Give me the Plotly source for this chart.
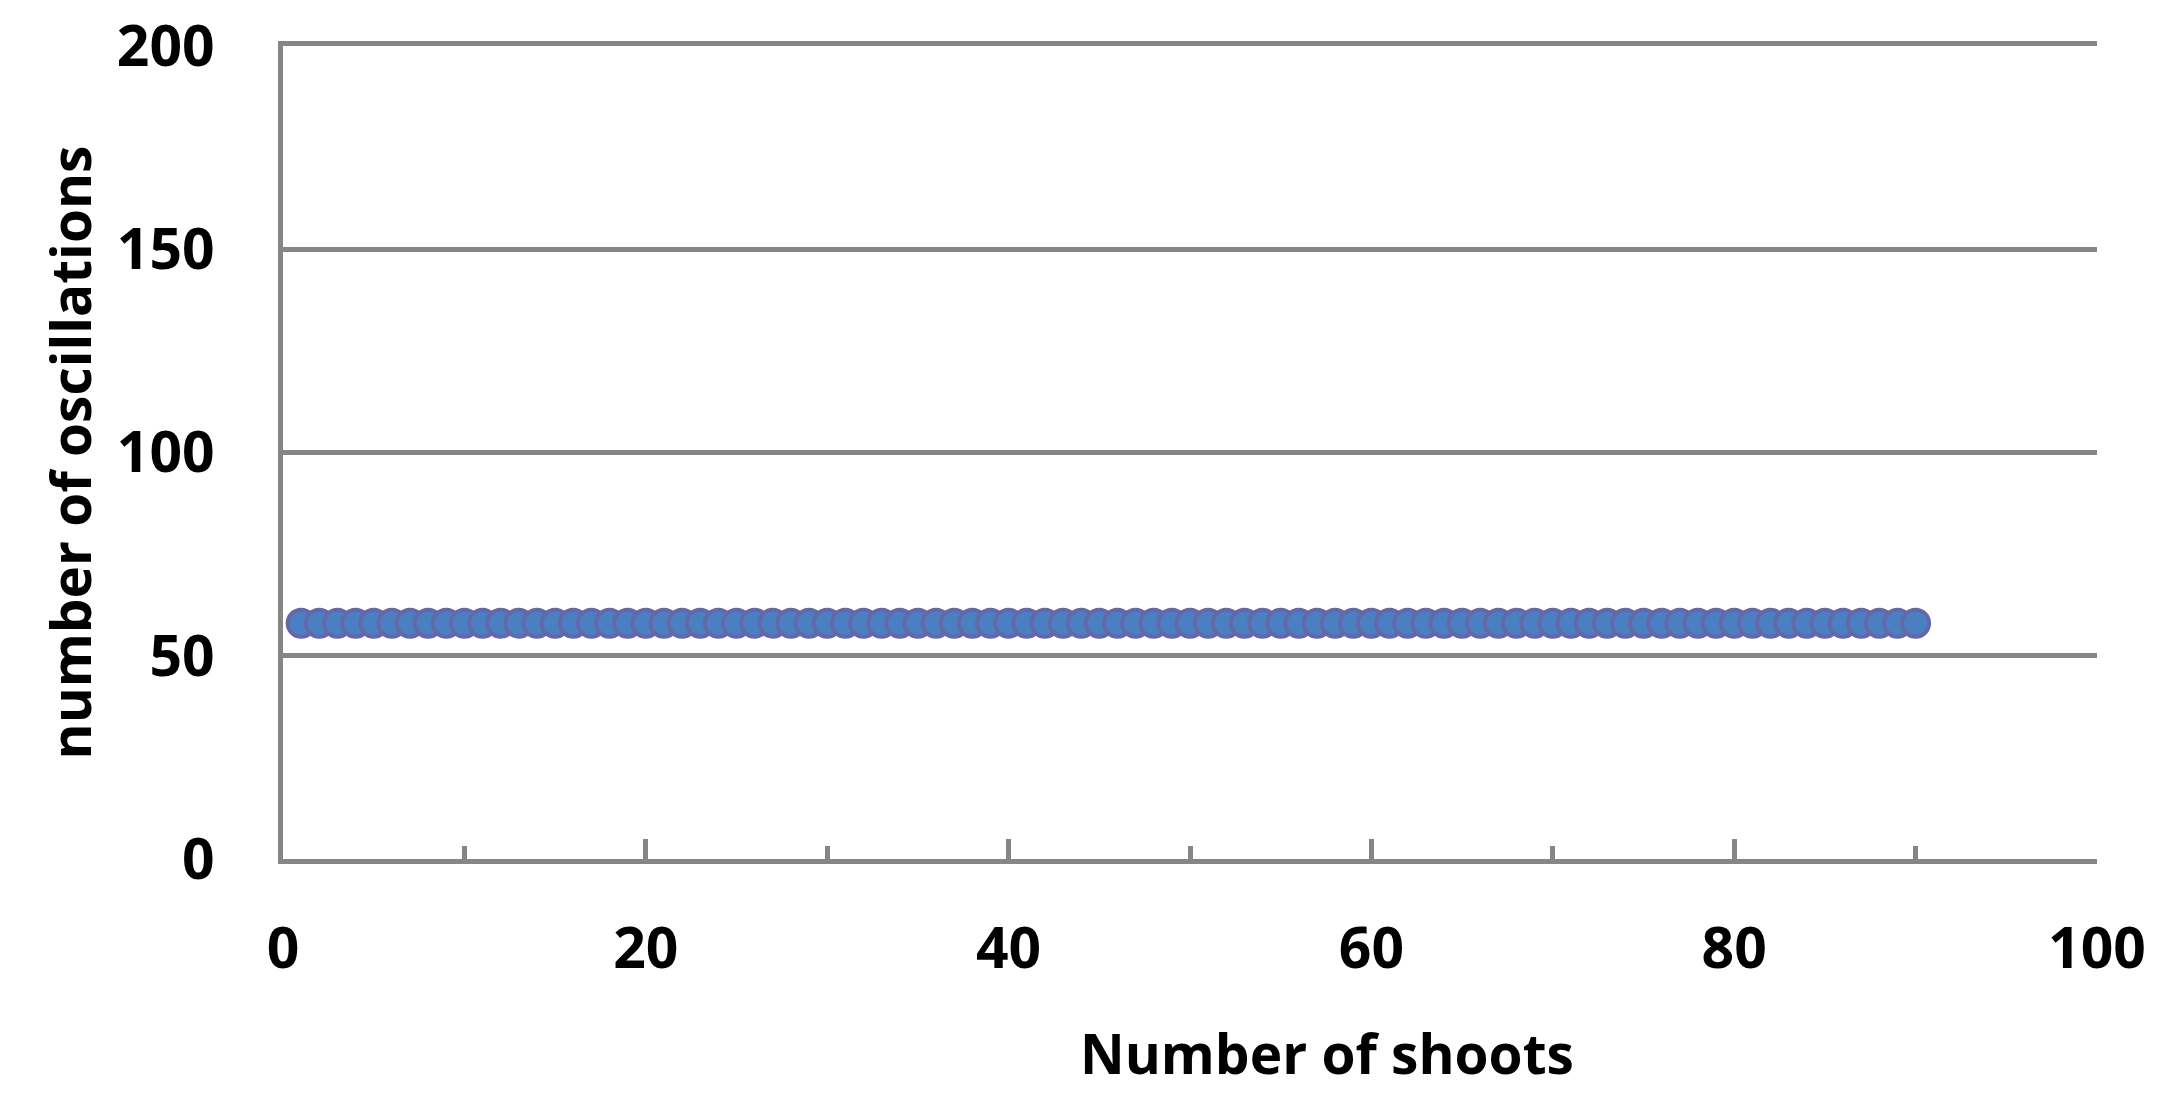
import plotly.graph_objects as go

shoots = list(range(1, 91))
oscillations = [58] * 90

x_ticks = [0, 20, 40, 60, 80, 100]
x_minor_ticks = [10, 30, 50, 70, 90]
y_ticks = [0, 50, 100, 150, 200]

FONT = "Open Sans"
GRID = "#868686"
FS = 57
FS_TITLE = 55
W = "bold"

L, R, T, B = 283, 2097, 46, 859  # plot area in page pixels

fig = go.Figure()
fig.add_trace(go.Scatter(
    x=shoots, y=oscillations, mode="markers",
    marker=dict(symbol="circle", size=27, color="#4a80c2",
                line=dict(color="#6468a8", width=4)),
    showlegend=False,
))

fig.update_layout(
    width=2175, height=1095,
    margin=dict(l=L, r=2175 - R, t=T, b=1095 - B, autoexpand=False),
    paper_bgcolor="white", plot_bgcolor="white",
    font=dict(family=FONT, size=FS, color="black"),
    xaxis=dict(
        range=[0, 100], tickvals=x_ticks, showgrid=False, zeroline=False,
        showline=True, linecolor=GRID, linewidth=5, mirror=True,
        ticks="inside", ticklen=20, tickwidth=5, tickcolor=GRID,
        minor=dict(tickvals=x_minor_ticks, ticks="inside", ticklen=13,
                   tickwidth=5, tickcolor=GRID),
        tickfont=dict(family=FONT, size=FS, weight=W),
        ticklabelstandoff=36, automargin=False, ticklabeloverflow="allow",
    ),
    yaxis=dict(
        range=[0, 200], tickvals=y_ticks, showgrid=True, gridcolor=GRID,
        gridwidth=5, zeroline=False,
        showline=True, linecolor=GRID, linewidth=5,
        ticks="",
        tickfont=dict(family=FONT, size=FS, weight=W),
        ticklabelstandoff=52, automargin=False, ticklabeloverflow="allow",
    ),
    annotations=[
        dict(text="Number of shoots", xref="paper", yref="paper",
             x=(1327 - L) / (R - L), y=-(1052 - B) / (B - T),
             xanchor="center", yanchor="middle", showarrow=False,
             font=dict(family=FONT, size=FS_TITLE, weight=W)),
        dict(text="number of oscillations", xref="paper", yref="paper",
             x=-(L - 69) / (R - L), y=0.5, textangle=-90,
             xanchor="center", yanchor="middle", showarrow=False,
             font=dict(family=FONT, size=FS_TITLE, weight=W)),
    ],
)

fig.write_html("out.html", config={"displayModeBar": False},
               post_script="document.body.style.margin='0';document.body.style.overflow='hidden';")
